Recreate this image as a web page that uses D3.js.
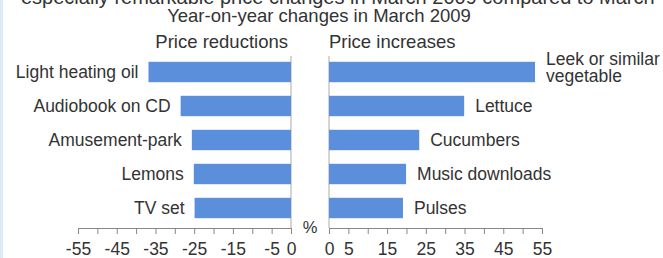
<!DOCTYPE html>
<html>
<head>
<meta charset="utf-8">
<script src="https://cdn.jsdelivr.net/npm/d3@7"></script>
<style>
  html, body { margin: 0; padding: 0; background: #fff; }
  svg { display: block; }
  text { font-family: Arial, "Liberation Sans", sans-serif; fill: #333; }
</style>
</head>
<body>
<svg id="chart" width="663" height="258"></svg>
<script>
const leftCategories = ["Light heating oil", "Audiobook on CD", "Amusement-park", "Lemons", "TV set"];
const leftValues = [-36.8, -28.5, -25.6, -25.1, -24.9];
const rightCategories = [["Leek or similar", "vegetable"], ["Lettuce"], ["Cucumbers"], ["Music downloads"], ["Pulses"]];
const rightValues = [53.2, 34.9, 23.3, 19.9, 19.1];
const leftTicks = [-55, -50, -45, -40, -35, -30, -25, -20, -15, -10, -5, 0];
const leftTickLabels = [-55, -45, -35, -25, -15, -5, 0];
const rightTicks = [0, 5, 10, 15, 20, 25, 30, 35, 40, 45, 50, 55];
const rightTickLabels = [0, 5, 15, 25, 35, 45, 55];
const topText = "especially remarkable price changes in March 2009 compared to March";
const titleText = "Year-on-year changes in March 2009";
const leftHeader = "Price reductions";
const rightHeader = "Price increases";

const svg = d3.select("#chart");
const barColor = "#5b8fdb";
const fs = 17.5;

// left light-blue border strip
svg.append("rect").attr("x", 0).attr("y", 0).attr("width", 3).attr("height", 258).attr("fill", "#dce9f6");

const xL = d3.scaleLinear().domain([-55, 0]).range([78, 291]);
const xR = d3.scaleLinear().domain([0, 55]).range([329, 542]);
const y = d3.scaleBand().domain(d3.range(5)).range([55, 225]).paddingInner(0.4).paddingOuter(0.2);
const axisY = 228;

// texts
svg.append("text").attr("x", 21).attr("y", 3.5).attr("font-size", 20).text(topText);
svg.append("text").attr("x", 319).attr("y", 22).attr("font-size", 18.5).attr("text-anchor", "middle").text(titleText);
svg.append("text").attr("x", 288).attr("y", 47.5).attr("font-size", 18.5).attr("text-anchor", "end").text(leftHeader);
svg.append("text").attr("x", 329).attr("y", 47.5).attr("font-size", 18.5).text(rightHeader);

// zero lines
svg.append("line").attr("x1", xL(0)).attr("x2", xL(0)).attr("y1", 56).attr("y2", axisY).attr("stroke", "#aaa");
svg.append("line").attr("x1", xR(0)).attr("x2", xR(0)).attr("y1", 56).attr("y2", axisY).attr("stroke", "#aaa");

// left bars
svg.append("g").selectAll("rect").data(leftValues).join("rect")
  .attr("x", d => xL(d)).attr("width", d => xL(0) - xL(d))
  .attr("y", (d, i) => y(i)).attr("height", y.bandwidth())
  .attr("fill", barColor);
svg.append("g").selectAll("text").data(leftCategories).join("text")
  .attr("x", (d, i) => xL(leftValues[i]) - 10)
  .attr("y", (d, i) => y(i) + y.bandwidth() / 2)
  .attr("dy", "0.36em").attr("text-anchor", "end").attr("font-size", fs)
  .text(d => d);

// right bars
svg.append("g").selectAll("rect").data(rightValues).join("rect")
  .attr("x", xR(0)).attr("width", d => xR(d) - xR(0))
  .attr("y", (d, i) => y(i)).attr("height", y.bandwidth())
  .attr("fill", barColor);
const rg = svg.append("g");
rightCategories.forEach((lines, i) => {
  const cx = xR(rightValues[i]) + 11;
  const cy = y(i) + y.bandwidth() / 2;
  if (lines.length === 1) {
    rg.append("text").attr("x", cx).attr("y", cy).attr("dy", "0.36em").attr("font-size", fs).text(lines[0]);
  } else {
    rg.append("text").attr("x", cx).attr("y", cy - 7).attr("font-size", fs).text(lines[0]);
    rg.append("text").attr("x", cx).attr("y", cy + 9.7).attr("font-size", fs).text(lines[1]);
  }
});

// axes
function drawAxis(scale, ticks, labels) {
  const g = svg.append("g").attr("transform", `translate(0,${axisY})`);
  const ax = d3.axisBottom(scale).tickValues(ticks).tickSize(6).tickSizeOuter(0)
    .tickFormat(d => labels.includes(d) ? String(d) : "");
  g.call(ax);
  g.select(".domain").attr("stroke", "#888");
  g.selectAll(".tick line").attr("stroke", "#888");
  g.selectAll(".tick text").attr("font-size", fs).attr("font-family", "Arial, 'Liberation Sans', sans-serif").attr("fill", "#333").attr("dy", "1.05em");
}
drawAxis(xL, leftTicks, leftTickLabels);
drawAxis(xR, rightTicks, rightTickLabels);

svg.append("text").attr("x", 310).attr("y", 233).attr("font-size", fs - 1).attr("text-anchor", "middle").text("%");
</script>
</body>
</html>
